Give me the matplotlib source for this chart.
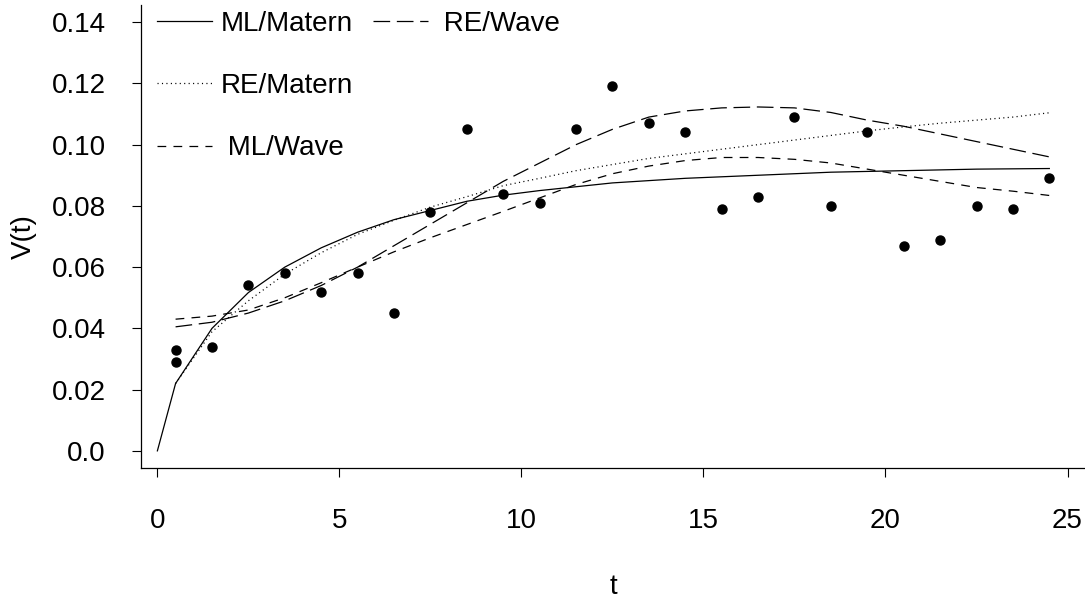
import matplotlib
matplotlib.use("Agg")
import matplotlib.pyplot as plt
from matplotlib.lines import Line2D

plt.rcParams['font.family'] = ['Liberation Sans', 'DejaVu Sans']
plt.rcParams['lines.scale_dashes'] = False

# observed points
t_obs = [0.5, 0.5, 1.5, 2.5, 3.5, 4.5, 5.5, 6.5, 7.5, 8.5, 9.5, 10.5, 11.5, 12.5,
         13.5, 14.5, 15.5, 16.5, 17.5, 18.5, 19.5, 20.5, 21.5, 22.5, 23.5, 24.5]
v_obs = [0.033, 0.029, 0.034, 0.054, 0.058, 0.052, 0.058, 0.045, 0.078, 0.105, 0.084,
         0.081, 0.105, 0.119, 0.107, 0.104, 0.079, 0.083, 0.109, 0.080, 0.104, 0.067,
         0.069, 0.080, 0.079, 0.089]

# fitted curves
t_ml_matern = [0, 0.5, 1.5, 2.5, 3.5, 4.5, 5.5, 6.5, 7.5, 8.5, 9.5, 10.5, 12.5, 14.5,
               16.5, 18.5, 20.5, 22.5, 24.5]
v_ml_matern = [0.0, 0.022, 0.040, 0.0517, 0.060, 0.0663, 0.0714, 0.0755, 0.0785, 0.0815,
               0.0835, 0.085, 0.0875, 0.089, 0.090, 0.091, 0.0915, 0.092, 0.0922]

t_curve = [0.5, 1.5, 2.5, 3.5, 4.5, 5.5, 6.5, 7.5, 8.5, 9.5, 10.5, 11.5, 12.5, 13.5,
           14.5, 15.5, 16.5, 17.5, 18.5, 19.5, 20.5, 21.5, 22.5, 23.5, 24.5]
v_re_matern = [0.022, 0.0389, 0.049, 0.0577, 0.0647, 0.0707, 0.0753, 0.0796, 0.083, 0.0866,
               0.089, 0.0915, 0.0935, 0.0955, 0.097, 0.0985, 0.100, 0.1015, 0.103, 0.1045,
               0.1058, 0.107, 0.108, 0.109, 0.1104]
v_re_wave = [0.0405, 0.042, 0.045, 0.049, 0.054, 0.060, 0.067, 0.074, 0.081, 0.088, 0.094,
             0.100, 0.105, 0.109, 0.111, 0.112, 0.1123, 0.112, 0.1105, 0.108, 0.106, 0.1035,
             0.101, 0.0985, 0.096]
v_ml_wave = [0.043, 0.044, 0.046, 0.050, 0.0549, 0.060, 0.065, 0.0696, 0.0739, 0.0782,
             0.0826, 0.087, 0.0905, 0.093, 0.0948, 0.0958, 0.0958, 0.0952, 0.094, 0.092,
             0.090, 0.088, 0.086, 0.0848, 0.0834]

x_ticks = [0, 5, 10, 15, 20, 25]
y_ticks = [0.0, 0.02, 0.04, 0.06, 0.08, 0.10, 0.12, 0.14]
y_ticklabels = ["0.0", "0.02", "0.04", "0.06", "0.08", "0.10", "0.12", "0.14"]

fig = plt.figure(figsize=(10.85, 6.02), dpi=100)
ax = fig.add_axes([141/1085, (602-468)/602, 944/1085, 463/602])

lw = 0.9
fs = 20
ax.plot(t_obs, v_obs, 'o', color='black', markersize=6.5, zorder=3)
h1, = ax.plot(t_ml_matern, v_ml_matern, color='black', lw=lw, linestyle='-')
h2, = ax.plot(t_curve, v_re_matern, color='black', lw=lw, linestyle=(0, (0.8, 2.4)))
h3, = ax.plot(t_curve, v_ml_wave, color='black', lw=lw, linestyle=(0, (6.3, 5.2)))
h4, = ax.plot(t_curve, v_re_wave, color='black', lw=lw, linestyle=(0, (12, 4.8)))

ax.set_xlim(-0.45, 25.48)
ax.set_ylim(-0.0056, 0.1456)
ax.set_xticks(x_ticks)
ax.set_xticklabels([str(v) for v in x_ticks])
ax.set_yticks(y_ticks)
ax.set_yticklabels(y_ticklabels)
ax.tick_params(axis='both', direction='out', length=6.8, width=0.8, labelsize=fs, colors='black')
ax.tick_params(axis='x', pad=22)
ax.tick_params(axis='y', pad=18.5)
for s in ['top', 'right']:
    ax.spines[s].set_visible(False)
for s in ['left', 'bottom']:
    ax.spines[s].set_linewidth(0.9)

ax.set_xlabel('t', fontsize=fs, labelpad=29)
ax.set_ylabel('V(t)', fontsize=fs, labelpad=11)

blank = Line2D([], [], linestyle='none')
ax.legend([h1, h2, h3, h4, blank, blank],
          ['ML/Matern', 'RE/Matern', ' ML/Wave', ' RE/Wave', '', ''],
          ncol=2, loc='upper left', bbox_to_anchor=(16/944, 0.987), frameon=False,
          fontsize=fs, handlelength=1.98, handletextpad=0.3, columnspacing=0.72,
          labelspacing=1.30, borderpad=0, borderaxespad=0)

fig.savefig('out.png', dpi=100)
